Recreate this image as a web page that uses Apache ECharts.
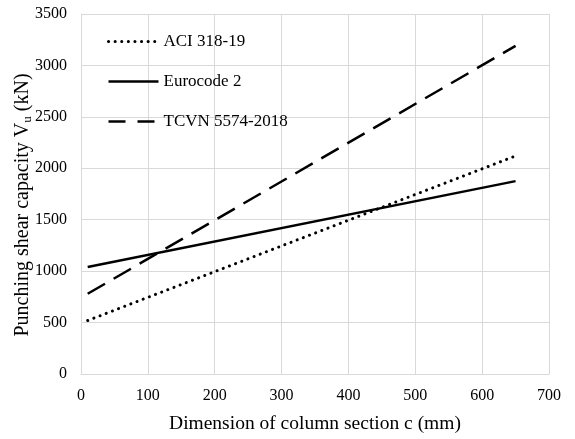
<!DOCTYPE html>
<html><head><meta charset="utf-8">
<script src="https://cdn.jsdelivr.net/npm/echarts@6/dist/echarts.min.js"></script>
<style>html,body{margin:0;padding:0;background:#fff}#c{width:575px;height:439px}</style>
</head><body><div id="c"></div>
<script>
const seriesNames = ['ACI 318-19', 'Eurocode 2', 'TCVN 5574-2018'];
const aciData = [[10, 520], [650, 2120]];
const ecData = [[10, 1040], [650, 1875]];
const tcvnData = [[10, 780], [650, 3190]];
const xTicks = [0, 100, 200, 300, 400, 500, 600, 700];
const yTicks = [0, 500, 1000, 1500, 2000, 2500, 3000, 3500];

const font = 'Liberation Serif';
const dotType = [0.1, 6.5];
const dashType = [20, 10];
const chart = echarts.init(document.getElementById('c'));
chart.setOption({
  animation: false,
  color: ['#000', '#000', '#000'],
  textStyle: { fontFamily: font, color: '#000' },
  grid: { left: 81, right: 26, top: 14, bottom: 62 },
  legend: {
    data: [
      { name: seriesNames[0], lineStyle: { type: dotType, width: 3, cap: 'round', color: '#000' } },
      { name: seriesNames[1], lineStyle: { type: 'solid', width: 2.5, color: '#000' } },
      { name: seriesNames[2], lineStyle: { type: [17, 12], width: 2.5, color: '#000' } }
    ],
    orient: 'vertical', left: 107, top: 33, padding: 0,
    itemWidth: 50, itemHeight: 12, itemGap: 23,
    itemStyle: { opacity: 0 },
    textStyle: { fontFamily: font, fontSize: 17, color: '#000' }
  },
  xAxis: {
    type: 'value', min: xTicks[0], max: xTicks[xTicks.length - 1], interval: 100,
    name: 'Dimension of column section c (mm)', nameLocation: 'middle', nameGap: 40,
    nameTextStyle: { fontFamily: font, fontSize: 19.5, color: '#000' },
    axisLine: { show: true, lineStyle: { color: '#d9d9d9' } },
    axisTick: { show: false },
    axisLabel: { fontFamily: font, fontSize: 16, color: '#000', margin: 14, formatter: v => String(v) },
    splitLine: { show: true, lineStyle: { color: '#d9d9d9', width: 1 } }
  },
  yAxis: {
    type: 'value', min: yTicks[0], max: yTicks[yTicks.length - 1], interval: 500,
    name: '{a|Punching shear capacity V}{s|u}{a| (kN)}', nameLocation: 'middle', nameGap: 47,
    nameMoveOverlap: false,
    nameTextStyle: { padding: [0, 22, 0, 0], rich: {
      a: { fontFamily: font, fontSize: 20, color: '#000' },
      s: { fontFamily: font, fontSize: 13, color: '#000', verticalAlign: 'bottom', padding: [9, 0, 0, 0] }
    } },
    axisLine: { show: true, lineStyle: { color: '#d9d9d9' } },
    axisTick: { show: false },
    axisLabel: { fontFamily: font, fontSize: 16, color: '#000', margin: 14, formatter: v => String(v) },
    splitLine: { show: true, lineStyle: { color: '#d9d9d9', width: 1 } }
  },
  series: [
    { name: seriesNames[0], type: 'line', data: aciData, symbol: 'none',
      lineStyle: { color: '#000', width: 3, type: dotType, cap: 'round' } },
    { name: seriesNames[1], type: 'line', data: ecData, symbol: 'none',
      lineStyle: { color: '#000', width: 2.5, type: 'solid' } },
    { name: seriesNames[2], type: 'line', data: tcvnData, symbol: 'none',
      lineStyle: { color: '#000', width: 2.5, type: dashType } }
  ]
});
</script></body></html>
